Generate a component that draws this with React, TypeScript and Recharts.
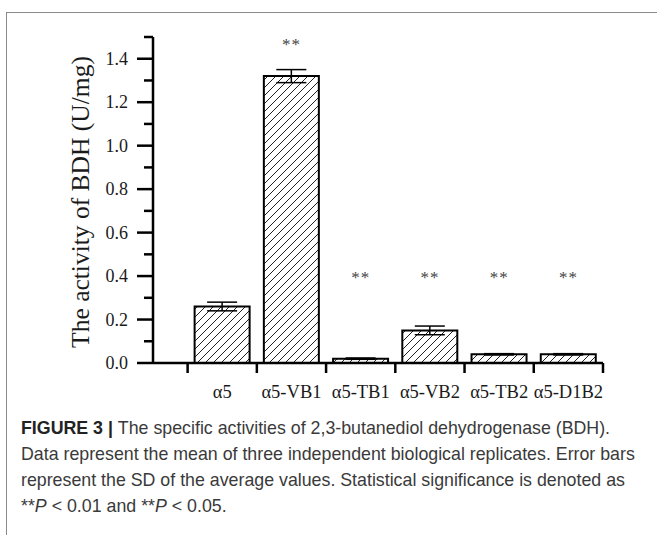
import React from 'react';
import { ComposedChart, Bar, XAxis, YAxis, ErrorBar, Scatter } from 'recharts';

const categories = ['α5', 'α5-VB1', 'α5-TB1', 'α5-VB2', 'α5-TB2', 'α5-D1B2'];
const activity = [0.26, 1.32, 0.02, 0.15, 0.04, 0.04];
const sd = [0.02, 0.03, 0.003, 0.02, 0.003, 0.003];
const significance = ['', '**', '**', '**', '**', '**'];
const significanceLevel = [null, 1.44, 0.37, 0.37, 0.37, 0.37];
const yTicks = [0, 0.1, 0.2, 0.3, 0.4, 0.5, 0.6, 0.7, 0.8, 0.9, 1.0, 1.1, 1.2, 1.3, 1.4, 1.5];
const yMajorLabels = ['0.0', '0.2', '0.4', '0.6', '0.8', '1.0', '1.2', '1.4'];
const xTicks = [0.5, 1, 1.5, 2, 2.5, 3, 3.5, 4, 4.5, 5, 5.5, 6, 6.5];
const yLabel = 'The activity of BDH (U/mg)';
const captionLines = [
  'The specific activities of 2,3-butanediol dehydrogenase (BDH).',
  'Data represent the mean of three independent biological replicates. Error bars',
  'represent the SD of the average values. Statistical significance is denoted as',
];

const rows = categories.map((name, i) => ({
  pos: i + 1,
  name,
  value: activity[i],
  err: sd[i],
  sig: significance[i],
  sigY: significanceLevel[i],
}));
const sigRows = rows.filter((r) => r.sig);

const SERIF = '"Liberation Serif", "Times New Roman", serif';
const SANS = '"Liberation Sans", Arial, sans-serif';

const XTick = (props: any) => {
  const { x, y, payload } = props;
  const v = payload.value;
  if (Number.isInteger(v)) {
    return (
      <text x={x} y={y + 35} textAnchor="middle" fontFamily={SERIF} fontSize={18.5} fill="#1a1a1a">
        {categories[v - 1]}
      </text>
    );
  }
  return <line x1={x} y1={y} x2={x} y2={y + 10} stroke="#000" strokeWidth={2.5} />;
};

const YTick = (props: any) => {
  const { x, y, payload } = props;
  const k = Math.round(payload.value * 10);
  const major = k % 2 === 0;
  return (
    <g>
      <line x1={x - (major ? 16 : 9)} y1={y} x2={x} y2={y} stroke="#000" strokeWidth={2.5} />
      {major ? (
        <text x={x - 25} y={y + 6} textAnchor="end" fontFamily={SERIF} fontSize={18} fill="#1a1a1a">
          {yMajorLabels[k / 2]}
        </text>
      ) : null}
    </g>
  );
};

const YLabel = (props: any) => {
  const vb = props.viewBox || { x: 0, y: 37, width: 153, height: 326 };
  const cx = vb.x + 80;
  const cy = vb.y + vb.height / 2 + 2;
  return (
    <text
      x={cx}
      y={cy}
      transform={`rotate(-90 ${cx} ${cy})`}
      textAnchor="middle"
      dominantBaseline="central"
      fontFamily={SERIF}
      fontSize={25.5}
      fill="#1a1a1a"
    >
      {yLabel}
    </text>
  );
};

const Stars = (props: any) => {
  const { cx, cy, payload } = props;
  return (
    <text x={cx} y={cy} textAnchor="middle" fontFamily={SERIF} fontSize={17} letterSpacing={1} fill="#444">
      {payload.sig}
    </text>
  );
};

export default function App() {
  return (
    <div style={{ position: 'absolute', left: 0, top: 0, width: 657, height: 538, background: '#fff' }}>
      <div
        style={{
          position: 'absolute',
          left: 6,
          top: 12,
          width: 651,
          height: 523,
          borderTop: '1.5px solid #8a8a8a',
          borderLeft: '1.5px solid #8a8a8a',
          boxSizing: 'border-box',
        }}
      />
      <div style={{ position: 'absolute', left: 0, top: 0 }}>
        <ComposedChart width={657} height={420} data={rows} margin={{ top: 37, right: 54, left: 0, bottom: 0 }}>
          <defs>
            <pattern id="hatch" patternUnits="userSpaceOnUse" width={8} height={8}>
              <path d="M-2,2 L2,-2 M0,8 L8,0 M6,10 L10,6" stroke="#222" strokeWidth={1} />
            </pattern>
          </defs>
          <XAxis
            type="number"
            dataKey="pos"
            domain={[0, 6.5]}
            ticks={xTicks}
            interval={0}
            allowDecimals
            tickLine={false}
            tickSize={0}
            tickMargin={0}
            tick={<XTick />}
            height={57}
            axisLine={{ stroke: '#000', strokeWidth: 2.5 }}
          />
          <YAxis
            type="number"
            domain={[0, 1.5]}
            ticks={yTicks}
            interval={0}
            tickLine={false}
            tickSize={0}
            tickMargin={0}
            tick={<YTick />}
            width={153}
            axisLine={{ stroke: '#000', strokeWidth: 2.5 }}
            label={<YLabel />}
          />
          <Bar dataKey="value" barSize={55} fill="url(#hatch)" stroke="#000" strokeWidth={2} isAnimationActive={false}>
            <ErrorBar dataKey="err" width={15} stroke="#000" strokeWidth={1.5} direction="y" />
          </Bar>
          <Scatter data={sigRows} dataKey="sigY" shape={<Stars />} isAnimationActive={false} />
        </ComposedChart>
      </div>
      <div
        style={{
          position: 'absolute',
          left: 21,
          top: 416,
          fontFamily: SANS,
          fontSize: 17.8,
          lineHeight: '25.9px',
          color: '#3a3a3a',
          whiteSpace: 'nowrap',
        }}
      >
        <div>
          <b style={{ color: '#222' }}>FIGURE 3 | </b>
          {captionLines[0]}
        </div>
        <div>{captionLines[1]}</div>
        <div>{captionLines[2]}</div>
        <div>
          **<i>P</i> &lt; 0.01 and **<i>P</i> &lt; 0.05.
        </div>
      </div>
    </div>
  );
}
